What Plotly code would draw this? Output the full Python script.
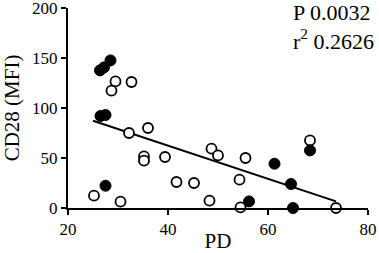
import plotly.graph_objects as go

# Open circles
open_pd = [29.5, 28.7, 32.7, 32.2, 36.0, 35.2, 35.2, 39.4, 25.2, 30.5, 41.7, 45.2, 48.7, 50.0, 55.5, 54.3, 48.3, 54.5, 68.4, 73.6]
open_cd28 = [126.6, 117.3, 126.0, 75.0, 80.0, 51.6, 47.3, 51.0, 12.3, 6.3, 26.0, 25.0, 59.3, 52.6, 50.0, 28.3, 7.3, 0.6, 67.6, 0.0]
# Filled circles
fill_pd = [28.5, 26.4, 27.2, 26.5, 27.5, 27.5, 61.3, 68.4, 64.6, 65.0, 56.2]
fill_cd28 = [147.6, 137.6, 140.6, 92.0, 93.0, 22.3, 44.3, 57.6, 24.0, 0.0, 6.6]

# Regression line
fit_slope = -1.66
fit_intercept = 128.8
fit_x = [25.0, 73.6]
fit_y = [fit_intercept + fit_slope * v for v in fit_x]

x_ticks = [20, 40, 60, 80]
y_ticks = [0, 50, 100, 150, 200]

font_family = "Liberation Serif"

fig = go.Figure()
fig.add_trace(go.Scatter(x=fit_x, y=fit_y, mode="lines",
                         line=dict(color="black", width=2), cliponaxis=False,
                         hoverinfo="skip", showlegend=False))
fig.add_trace(go.Scatter(x=open_pd, y=open_cd28, mode="markers", cliponaxis=False,
                         marker=dict(size=10, color="white", symbol="circle",
                                     line=dict(color="black", width=1.8)),
                         showlegend=False))
fig.add_trace(go.Scatter(x=fill_pd, y=fill_cd28, mode="markers", cliponaxis=False,
                         marker=dict(size=11, color="black", symbol="circle",
                                     line=dict(color="black", width=1)),
                         showlegend=False))

axis_common = dict(showline=True, linecolor="black", linewidth=2, ticks="outside",
                   ticklen=5, tickwidth=2, tickcolor="black", showgrid=False,
                   zeroline=False, automargin=False, ticklabeloverflow="allow",
                   tickfont=dict(family=font_family, size=17, color="black"))

fig.update_xaxes(range=[20, 80], tickvals=x_ticks, ticktext=[str(v) for v in x_ticks],
                 title=dict(text="PD", font=dict(family=font_family, size=21, color="black"), standoff=3),
                 **axis_common)
fig.update_yaxes(range=[0, 200], tickvals=y_ticks, ticktext=[str(v) for v in y_ticks],
                 title=dict(text="CD28 (MFI)", font=dict(family=font_family, size=21, color="black"), standoff=10),
                 **axis_common)

fig.add_annotation(xref="paper", yref="paper", x=1.028, y=1.05, xanchor="right", yanchor="top",
                   text="P 0.0032<br>r<sup>2</sup> 0.2626", align="left", showarrow=False,
                   font=dict(family=font_family, size=22, color="black"))

fig.update_layout(width=379, height=253, margin=dict(l=68, r=11, t=8, b=45),
                  plot_bgcolor="white", paper_bgcolor="white")

fig.write_html("out.html", config={"displayModeBar": False},
               post_script="document.body.style.margin='0';document.body.style.overflow='hidden';")
